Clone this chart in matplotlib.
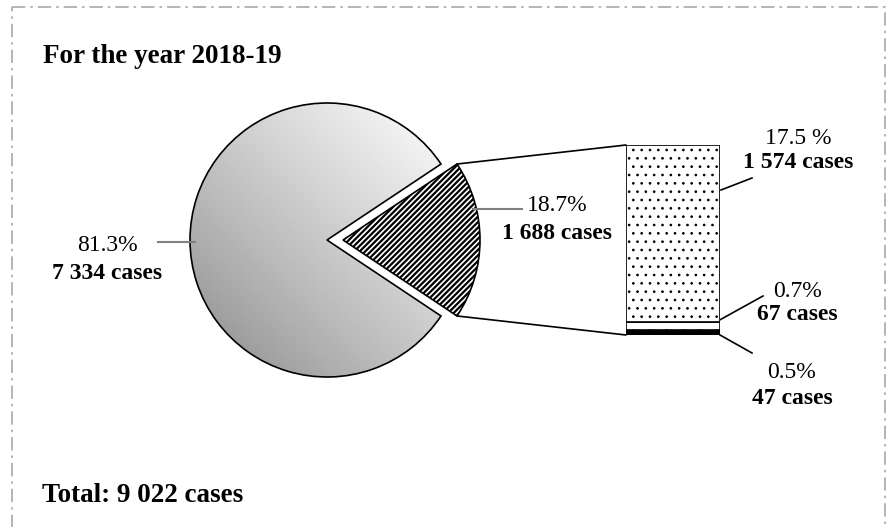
import numpy as np
import matplotlib.pyplot as plt
from matplotlib.patches import ConnectionPatch, Rectangle

plt.rcParams['font.family'] = ['Liberation Serif', 'DejaVu Serif']

# data
total_cases = 9022
pie_cases = [1688, 7334]              # exploded slice first
pie_pcts = ['18.7%', '81.3%']
bar_cases = [47, 67, 1574]            # bottom -> top
bar_pcts = ['0.5%', '0.7%', '17.5 %']
title = 'For the year 2018-19'

FS = 17
FS_BIG = 19.5


def fmt_cases(n):
    return f'{n:,}'.replace(',', ' ') + ' cases'


fig = plt.figure(figsize=(8.92, 5.27), dpi=100)

# full-figure axes in pixel units (y down)
ax = fig.add_axes([0, 0, 1, 1])
center = (327, 240)
radius = 137
half_angle = pie_cases[0] / sum(pie_cases) * 180
with plt.rc_context({'hatch.linewidth': 1.6}):
    wedges, _ = ax.pie(pie_cases, center=center, radius=radius,
                       startangle=-half_angle, explode=[16, 0],
                       colors=['white', 'none'], frame=True,
                       wedgeprops=dict(edgecolor='black', linewidth=1.2))
    wedges[0].set_hatch('//////')

# gradient fill for the big slice
x0, x1 = center[0] - radius, center[0] + radius
y0, y1 = center[1] - radius, center[1] + radius
gx, gy = np.meshgrid(np.linspace(0, 1, 300), np.linspace(0, 1, 300))
t = np.clip((gx + (1 - gy)) / 2 * 1.1, 0, 1)
grad = 0.52 + 0.45 * t ** 0.85
im = ax.imshow(grad, cmap='gray', vmin=0, vmax=1, extent=(x0, x1, y1, y0),
               origin='upper', interpolation='bilinear', zorder=0)
im.set_clip_path(wedges[1])

ax.set_xlim(0, 892)
ax.set_ylim(527, 0)
ax.set_aspect('equal')
ax.axis('off')

# bar of the exploded slice
bax = fig.add_axes([626 / 892, 1 - 335 / 527, 94 / 892, 190 / 527])
bottom = 0
styles = [dict(color='black', hatch=None),
          dict(color='white', hatch='o'),
          dict(color='white', hatch='..')]
with plt.rc_context({'hatch.linewidth': 0.7}):
    for n, st in zip(bar_cases, styles):
        bax.bar(0, n, width=1, bottom=bottom, color=st['color'], hatch=st['hatch'],
                edgecolor='black', linewidth=1.2)
        bottom += n
bax.set_xlim(-0.5, 0.5)
bax.set_ylim(0, sum(bar_cases))
bax.axis('off')

# connecting lines (y axis is inverted, so theta1 is the upper edge)
w = wedges[0]
for ang, yb in [(w.theta1, sum(bar_cases)), (w.theta2, 0)]:
    xa = w.center[0] + w.r * np.cos(np.radians(ang))
    ya = w.center[1] + w.r * np.sin(np.radians(ang))
    con = ConnectionPatch(xyA=(-0.5, yb), coordsA=bax.transData,
                          xyB=(xa, ya), coordsB=ax.transData,
                          color='black', linewidth=1.2)
    fig.add_artist(con)

# leader lines
ax.plot([158, 195], [242, 242], color='#808080', lw=1.5)
ax.plot([473, 522], [209, 209], color='#808080', lw=1.5)
ax.plot([721, 752], [190, 178], color='black', lw=1.2)
ax.plot([707, 763], [327, 296], color='black', lw=1.2)
ax.plot([720, 752], [335, 353], color='black', lw=1.2)

# labels
pie_lab_pos = [(557, 211, 239), (107, 251, 279)]
for (x, yp, yc), pct, n in zip(pie_lab_pos, pie_pcts, pie_cases):
    ax.text(x, yp, pct, fontsize=FS, ha='center', va='baseline')
    ax.text(x, yc, fmt_cases(n), fontsize=FS, ha='center', va='baseline',
            fontweight='bold')

bar_lab_pos = [(792, 378, 404), (797, 297, 320), (798, 144, 168)]
for (x, yp, yc), pct, n in zip(bar_lab_pos, bar_pcts, bar_cases):
    ax.text(x, yp, pct, fontsize=FS, ha='center', va='baseline')
    ax.text(x, yc, fmt_cases(n), fontsize=FS, ha='center', va='baseline',
            fontweight='bold')

ax.text(43, 63, title, fontsize=FS_BIG, fontweight='bold', ha='left', va='baseline')
ax.text(42, 502, 'Total: ' + fmt_cases(total_cases), fontsize=FS_BIG,
        fontweight='bold', ha='left', va='baseline')

# dash-dot frame
frame = Rectangle((12, 7), 873, 540, fill=False, edgecolor='#a8a8a8',
                  linewidth=1.2, linestyle=(0, (8, 3, 1.5, 3)), clip_on=False)
ax.add_patch(frame)

fig.savefig('out.png', dpi=100)
